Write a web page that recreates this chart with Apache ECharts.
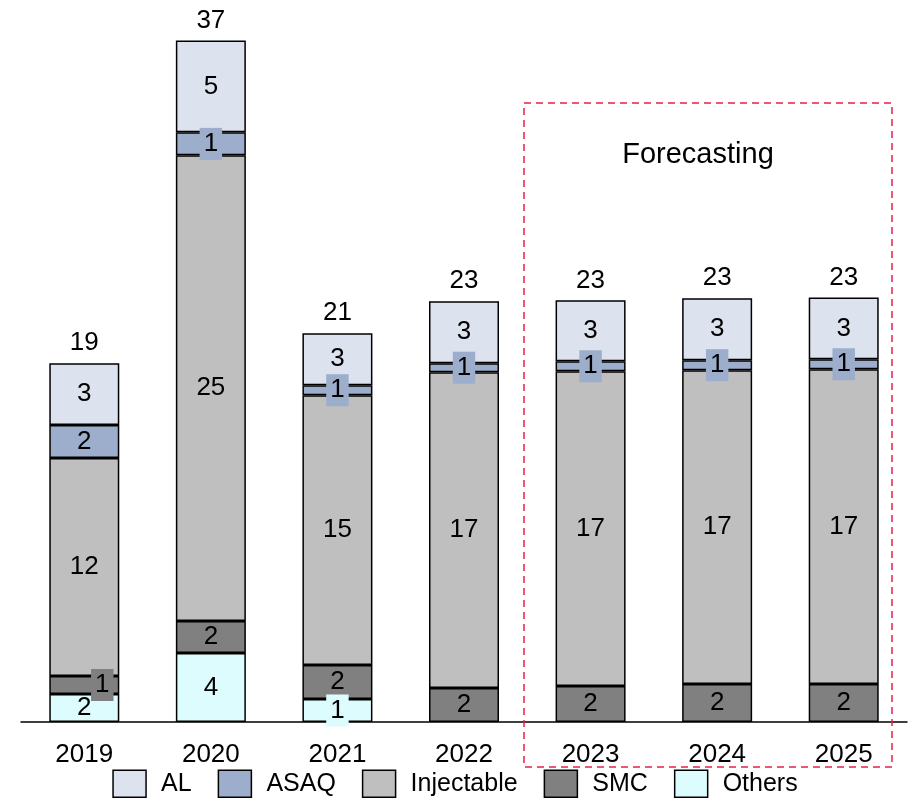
<!DOCTYPE html>
<html>
<head>
<meta charset="utf-8">
<script src="https://cdn.jsdelivr.net/npm/echarts@6/dist/echarts.min.js"></script>
<style>html,body{margin:0;padding:0;background:#fff;}#c{width:910px;height:805px;}</style>
</head>
<body>
<div id="c"></div>
<script>
const years = ['2019','2020','2021','2022','2023','2024','2025'];
const AL = [3.36, 4.99, 2.82, 3.36, 3.31, 3.36, 3.36];
const ASAQ = [1.79, 1.25, 0.54, 0.49, 0.54, 0.54, 0.54];
const Injectable = [11.83, 25.28, 14.65, 17.15, 17.09, 17.04, 17.09];
const SMC = [0.98, 1.74, 1.84, 1.84, 1.95, 2.06, 2.06];
const Others = [1.52, 3.74, 1.25, null, null, null, null];
const AL_labels = ['3','5','3','3','3','3','3'];
const ASAQ_labels = ['2','1','1','1','1','1','1'];
const Injectable_labels = ['12','25','15','17','17','17','17'];
const SMC_labels = ['1','2','2','2','2','2','2'];
const Others_labels = ['2','4','1','','','',''];
const totals = ['19','37','21','23','23','23','23'];

const FONT = 'Liberation Sans, Arial, sans-serif';
const colors = {AL:'#dde3ee', ASAQ:'#9caecb', Injectable:'#bfbfbf', SMC:'#808080', Others:'#ddfcfd'};

function items(vals, labels, color, boxed, offsets) {
  return vals.map((v, i) => {
    if (v == null) return '-';
    const it = {value: v, label: {formatter: labels[i]}};
    if (boxed.indexOf(i) >= 0) {
      it.label.backgroundColor = color;
      it.label.padding = [3, 4, 3, 4];
    }
    if (offsets && offsets[i]) it.label.offset = offsets[i];
    return it;
  });
}

function barSeries(name, vals, labels, boxed, offsets) {
  return {
    name, type: 'bar', stack: 'total', barWidth: 70,
    itemStyle: {color: colors[name], borderColor: '#000', borderWidth: 1.5},
    label: {show: true, position: 'inside', color: '#000', fontSize: 26, fontFamily: FONT},
    data: items(vals, labels, colors[name], boxed, offsets)
  };
}

const chart = echarts.init(document.getElementById('c'));
chart.setOption({
  animation: false,
  backgroundColor: '#fff',
  grid: {left: 21, right: 3, top: 22, bottom: 83, containLabel: false},
  xAxis: {
    type: 'category', data: years,
    axisLine: {lineStyle: {color: '#000', width: 1.5}},
    axisTick: {show: false},
    axisLabel: {color: '#000', fontSize: 26, fontFamily: FONT, margin: 20}
  },
  yAxis: {type: 'value', min: 0, max: 38, show: false, splitLine: {show: false}},
  legend: {
    data: ['AL','ASAQ','Injectable','SMC','Others'],
    bottom: 2, left: 'center', itemWidth: 33, itemHeight: 27, itemGap: 26,
    icon: 'rect',
    itemStyle: {borderColor: '#000', borderWidth: 1.5},
    textStyle: {color: '#000', fontSize: 25, fontFamily: FONT, padding: [0,0,0,10]}
  },
  series: [
    barSeries('Others', Others, Others_labels, [2]),
    barSeries('SMC', SMC, SMC_labels, [0], {0: [18, 0]}),
    barSeries('Injectable', Injectable, Injectable_labels, []),
    barSeries('ASAQ', ASAQ, ASAQ_labels, [1,2,3,4,5,6]),
    barSeries('AL', AL, AL_labels, []),
    {
      name: 'Total', type: 'bar', stack: 'total', barWidth: 70,
      itemStyle: {color: 'transparent'},
      label: {show: true, position: 'top', distance: 7, color: '#000', fontSize: 26, fontFamily: FONT,
        formatter: p => totals[p.dataIndex]},
      data: years.map(() => 0)
    }
  ],
  graphic: [
    {type: 'rect', shape: {x: 524, y: 103, width: 368, height: 664},
     style: {fill: 'none', stroke: '#e8204a', lineWidth: 1.5, lineDash: [7, 5]}, z: 100},
    {type: 'text', x: 698, y: 155,
     style: {text: 'Forecasting', fill: '#000', fontSize: 29, fontFamily: FONT, align: 'center', verticalAlign: 'middle'}, z: 100}
  ]
});
</script>
</body>
</html>
